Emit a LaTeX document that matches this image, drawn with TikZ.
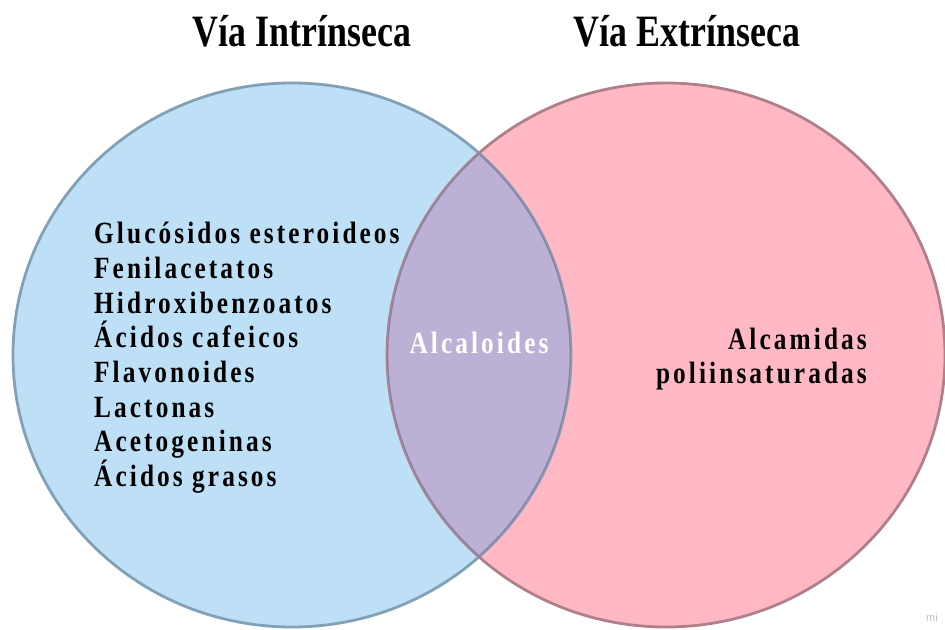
\documentclass[tikz,border=0pt]{standalone}
\usepackage{fontspec}
\setmainfont{Liberation Serif}
\newfontfamily\titlefont{Liberation Serif}[FakeStretch=0.8]
\newfontfamily\listfont{Liberation Serif}[FakeStretch=0.82,LetterSpace=10]
\newfontfamily\markfont{Liberation Sans}

\definecolor{venblue}{RGB}{190,224,247}
\definecolor{venpink}{RGB}{255,184,196}
\definecolor{venmix}{RGB}{188,176,212}
\definecolor{blueline}{RGB}{130,160,182}
\definecolor{pinkline}{RGB}{176,128,138}
\definecolor{mixline}{RGB}{138,128,160}

\tikzset{
  titulo/.style={font=\titlefont\bfseries\fontsize{45}{50}\selectfont},
  item/.style={anchor=base west, inner sep=0pt,
    font=\listfont\bfseries\fontsize{31}{34}\selectfont},
}

\begin{document}
\begin{tikzpicture}[x=1bp,y=-1bp]

\useasboundingbox (0,0) rectangle (945,630);

% Circulos
\fill[venblue]
(292,355)
ellipse [x radius=279, y radius=272];

\fill[venpink]
(666,355)
ellipse [x radius=279, y radius=272];

\draw[blueline, line width=2.8bp]
(292,355)
ellipse [x radius=279, y radius=272];

\draw[pinkline, line width=2.8bp]
(666,355)
ellipse [x radius=279, y radius=272];

% Interseccion
\begin{scope}
\clip (292,355) ellipse [x radius=279, y radius=272];
\clip (666,355) ellipse [x radius=279, y radius=272];
\fill[venmix] (0,0) rectangle (945,630);
\draw[mixline, line width=2.8bp]
(292,355) ellipse [x radius=279, y radius=272];
\draw[mixline, line width=2.8bp]
(666,355) ellipse [x radius=279, y radius=272];
\end{scope}

% Titulos
\node[titulo, anchor=base]
(intr)
at (302,47)
{Vía Intrínseca};

\node[titulo, anchor=base]
(extr)
at (687,47)
{Vía Extrínseca};

% Via intrinseca
\foreach \txt [count=\i] in {Glucósidos esteroideos, Fenilacetatos,
  Hidroxibenzoatos, Ácidos cafeicos, Flavonoides, Lactonas,
  Acetogeninas, Ácidos grasos}
  \node[item]
  (c\i)
  at (94,{244+34.6*(\i-1)})
  {\txt};

% Alcaloides
\node[item, anchor=base, text=white]
(alc)
at (479,353)
{Alcaloides};

% Via extrinseca
\node[item, anchor=base east]
(alm1)
at (867,349)
{Alcamidas};

\node[item, anchor=base east]
(alm2)
at (867,383)
{poliinsaturadas};

\node[anchor=base west, inner sep=0pt, text=black!25,
  font=\markfont\fontsize{11}{12}\selectfont]
(marca)
at (926,621)
{mi};

\end{tikzpicture}
\end{document}
